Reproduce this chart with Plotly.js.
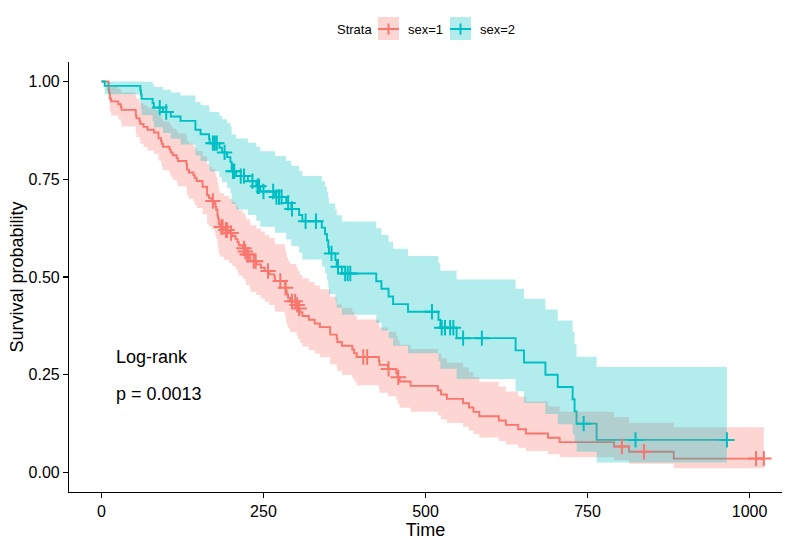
<!DOCTYPE html>
<html>
<head>
<meta charset="utf-8">
<script src="https://cdn.plot.ly/plotly-3.0.1.min.js"></script>
<style>html,body{margin:0;padding:0;background:#fff;}#chart{width:790px;height:547px;}</style>
</head>
<body>
<div id="chart"></div>
<script>
// ---- Data: sex=1 (Kaplan-Meier steps and 95% band) ----
const times1 = [0,11,12,13,15,26,30,31,53,54,59,60,65,71,81,88,92,93,95,105,107,110,116,118,131,132,135,142,144,147,156,163,166,170,175,176,177,179,180,181,183,189,197,202,207,210,212,218,222,223,229,230,239,246,252,259,267,268,283,284,285,286,288,291,301,303,306,310,320,329,337,353,363,364,371,387,390,394,428,429,442,455,457,460,477,519,524,533,558,567,574,583,613,624,643,655,689,707,791,814,883,1022];
const surv1 = [1,.9783,.9710,.9565,.9493,.9420,.9348,.9275,.9130,.9058,.8986,.8913,.8841,.8768,.8696,.8551,.8478,.8405,.8332,.8259,.8186,.8113,.8040,.7967,.7894,.7748,.7675,.7602,.7529,.7456,.7310,.7090,.7017,.6944,.6870,.6796,.6722,.6575,.6501,.6353,.6279,.6203,.6126,.6047,.5969,.5890,.5812,.5733,.5653,.5573,.5490,.5406,.5322,.5237,.5153,.5068,.4984,.4899,.4813,.4727,.4640,.4552,.4465,.4377,.4286,.4193,.4098,.4002,.3907,.3812,.3717,.3526,.3431,.3336,.3240,.3145,.3050,.2955,.2853,.2751,.2649,.2543,.2437,.2326,.2215,.2104,.1993,.1882,.1772,.1661,.1550,.1439,.1328,.1218,.1107,.0996,.0886,.0775,.0664,.0531,.0354,.0354];
const upper1 = [1,1.0,.9994,.9911,.9866,.9818,.9770,.9718,.9612,.9559,.9504,.9448,.9392,.9334,.9276,.9159,.9099,.9039,.8978,.8916,.8856,.8794,.8731,.8670,.8606,.8479,.8415,.8350,.8286,.8221,.8091,.7893,.7827,.7760,.7692,.7624,.7556,.7421,.7351,.7213,.7144,.7073,.7001,.6927,.6855,.6781,.6707,.6632,.6556,.6480,.6402,.6322,.6243,.6162,.6082,.6000,.5920,.5837,.5754,.5671,.5587,.5502,.5417,.5331,.5243,.5152,.5060,.4967,.4873,.4780,.4685,.4495,.4399,.4303,.4206,.4109,.4012,.3915,.3811,.3707,.3602,.3493,.3384,.3270,.3155,.3040,.2922,.2805,.2687,.2566,.2444,.2321,.2196,.2072,.1945,.1816,.1686,.1552,.1416,.1274,.1159,.1159];
const lower1 = [1,.9542,.9434,.9231,.9134,.9038,.8944,.8853,.8672,.8583,.8496,.8408,.8323,.8237,.8152,.7983,.7899,.7816,.7733,.7650,.7567,.7485,.7403,.7321,.7241,.7080,.7000,.6921,.6841,.6762,.6605,.6369,.6291,.6214,.6136,.6058,.5980,.5826,.5749,.5596,.5519,.5440,.5360,.5279,.5198,.5117,.5036,.4956,.4874,.4793,.4708,.4622,.4537,.4451,.4366,.4281,.4196,.4112,.4026,.3940,.3853,.3766,.3680,.3594,.3504,.3412,.3319,.3225,.3132,.3040,.2949,.2766,.2676,.2586,.2496,.2407,.2319,.2231,.2136,.2042,.1948,.1851,.1755,.1654,.1555,.1456,.1359,.1263,.1169,.1075,.0983,.0892,.0803,.0716,.0630,.0546,.0466,.0387,.0311,.0221,.0108,.0108];
const censTime1 = [172,185,187,192,194,200,220,222,225,226,235,238,257,276,284,294,299,302,305,404,410,443,458,803,837,1010,1022];
const censSurv1 = [.6944,.6279,.6279,.6203,.6203,.6126,.5733,.5653,.5573,.5573,.5406,.5406,.5153,.4899,.4727,.4377,.4377,.4286,.4193,.2955,.2955,.2649,.2437,.0664,.0531,.0354,.0354];

// ---- Data: sex=2 ----
const times2 = [0,5,60,61,62,79,81,95,107,122,145,153,166,167,182,186,194,199,201,208,226,239,245,268,285,293,305,310,340,345,348,350,351,361,363,371,424,432,443,450,473,520,523,548,639,652,685,704,727,730,733,764,965];
const surv2 = [1,.9889,.9778,.9667,.9556,.9444,.9333,.9221,.9107,.8993,.8766,.8652,.8538,.8424,.8305,.8187,.8066,.7946,.7705,.7581,.7452,.7322,.7186,.7045,.6895,.6742,.6585,.6428,.6264,.6099,.5934,.5769,.5604,.5434,.5265,.5089,.4893,.4698,.4502,.4306,.4110,.3905,.3700,.3436,.3124,.2811,.2499,.2186,.1874,.1562,.1249,.0833,.0833];
const upper2 = [1,1,1,1,.9992,.9930,.9863,.9793,.9717,.9640,.9477,.9393,.9306,.9218,.9126,.9033,.8937,.8841,.8643,.8541,.8434,.8327,.8214,.8098,.7975,.7848,.7718,.7586,.7450,.7310,.7168,.7024,.6878,.6727,.6577,.6419,.6248,.6076,.5900,.5721,.5539,.5350,.5158,.4938,.4698,.4441,.4171,.3886,.3590,.3281,.2957,.2700,.2700];
const lower2 = [1,.9675,.9478,.9303,.9139,.8982,.8831,.8683,.8535,.8390,.8109,.7970,.7834,.7699,.7558,.7421,.7280,.7142,.6869,.6729,.6584,.6438,.6287,.6129,.5961,.5791,.5618,.5446,.5267,.5089,.4913,.4739,.4566,.4389,.4215,.4035,.3832,.3632,.3435,.3241,.3050,.2850,.2654,.2391,.2077,.1779,.1497,.1230,.0978,.0744,.0528,.0257,.0257];
const censTime2 = [90,100,172,175,178,190,203,205,215,220,233,241,243,250,265,270,274,278,288,294,315,331,355,365,376,380,384,510,525,530,538,543,558,587,744,824,965];
const censSurv2 = [.9333,.9221,.8424,.8424,.8424,.8187,.7705,.7705,.7581,.7581,.7452,.7322,.7322,.7186,.7186,.7045,.7045,.7045,.6895,.6742,.6428,.6428,.5604,.5265,.5089,.5089,.5089,.4110,.3700,.3700,.3700,.3700,.3436,.3436,.1249,.0833,.0833];

const xTicks = [0,250,500,750,1000];
const yTicks = [0,0.25,0.5,0.75,1];
const strataNames = ['sex=1','sex=2'];

// ---- Styles ----
const RED = '#F8766D', BLUE = '#00BFC4';
const RED_F = 'rgba(248,118,109,0.3)', BLUE_F = 'rgba(0,191,196,0.3)';
const FONT = 'Liberation Sans, Arial, Helvetica, sans-serif';

function stepLine(x, y, c){
  return {x:x, y:y, type:'scatter', mode:'lines', line:{color:c, width:1.9, shape:'hv'}, hoverinfo:'skip', showlegend:false};
}
function band(x, lo, hi, fc){
  return [
    {x:x, y:lo, type:'scatter', mode:'lines', line:{width:0, shape:'hv', color:fc}, hoverinfo:'skip', showlegend:false},
    {x:x, y:hi, type:'scatter', mode:'lines', fill:'tonexty', fillcolor:fc, line:{width:0, shape:'hv', color:fc}, hoverinfo:'skip', showlegend:false}
  ];
}
function cens(x, y, c){
  return {x:x, y:y, type:'scatter', mode:'markers', marker:{symbol:'cross-thin', size:11, color:c, line:{color:c, width:2}}, hoverinfo:'skip', showlegend:false};
}

const traces = [
  stepLine(times1, surv1, RED),
  stepLine(times2, surv2, BLUE),
  ...band(times1, lower1, upper1, RED_F),
  ...band(times2, lower2, upper2, BLUE_F),
  cens(censTime1, censSurv1, RED),
  cens(censTime2, censSurv2, BLUE)
];

// pixel -> paper helpers for the manual legend
const ML = 69, MR = 8, MT = 62, MB = 55, W = 790, H = 547;
const PW = W - ML - MR, PH = H - MT - MB;
const px = v => (v - ML) / PW;
const py = v => (H - MB - v) / PH;

function key(x0, fc, c){
  const x1 = x0 + 21, cx = (x0 + x1) / 2;
  return [
    {type:'rect', xref:'paper', yref:'paper', x0:px(x0), x1:px(x1), y0:py(40), y1:py(17), fillcolor:fc, line:{width:0}},
    {type:'line', xref:'paper', yref:'paper', x0:px(x0), x1:px(x1), y0:py(29), y1:py(29), line:{color:c, width:2}},
    {type:'line', xref:'paper', yref:'paper', x0:px(cx), x1:px(cx), y0:py(23.5), y1:py(34.5), line:{color:c, width:2}}
  ];
}

const layout = {
  width: W, height: H,
  margin: {l:ML, r:MR, t:MT, b:MB, pad:0},
  paper_bgcolor:'#fff', plot_bgcolor:'#fff',
  font: {family: FONT, color:'#000', size:16},
  showlegend: false,
  xaxis: {
    range: [-50, 1050], tickvals: xTicks, ticktext: xTicks.map(String),
    showgrid:false, zeroline:false, showline:true, linecolor:'#000', linewidth:1.1,
    ticks:'outside', ticklen:5, tickcolor:'#000', tickwidth:1.1,
    tickfont:{size:16, color:'#000', family:FONT},
    title:{text:'Time', font:{size:18, color:'#000', family:FONT}, standoff:4}
  },
  yaxis: {
    range: [-0.05, 1.05], tickvals: yTicks, ticktext: yTicks.map(v => v.toFixed(2)),
    showgrid:false, zeroline:false, showline:true, linecolor:'#000', linewidth:1.1,
    ticks:'outside', ticklen:5, tickcolor:'#000', tickwidth:1.1,
    tickfont:{size:16, color:'#000', family:FONT},
    title:{text:'Survival probability', font:{size:18, color:'#000', family:FONT}, standoff:0}
  },
  shapes: [...key(378, RED_F, RED), ...key(450, BLUE_F, BLUE)],
  annotations: [
    {xref:'paper', yref:'paper', x:px(335), y:py(29.5), xanchor:'left', yanchor:'middle', text:'Strata', showarrow:false, font:{size:13, family:FONT, color:'#000'}},
    {xref:'paper', yref:'paper', x:px(406), y:py(29.5), xanchor:'left', yanchor:'middle', text:strataNames[0], showarrow:false, font:{size:13, family:FONT, color:'#000'}},
    {xref:'paper', yref:'paper', x:px(478), y:py(29.5), xanchor:'left', yanchor:'middle', text:strataNames[1], showarrow:false, font:{size:13, family:FONT, color:'#000'}},
    {xref:'x', yref:'y', x:20, y:0.295, xanchor:'left', yanchor:'middle', text:'Log-rank', showarrow:false, font:{size:18, family:FONT, color:'#000'}},
    {xref:'x', yref:'y', x:20, y:0.20, xanchor:'left', yanchor:'middle', text:'p = 0.0013', showarrow:false, font:{size:18, family:FONT, color:'#000'}}
  ]
};

Plotly.newPlot('chart', traces, layout, {displayModeBar:false, staticPlot:true});
</script>
</body>
</html>
